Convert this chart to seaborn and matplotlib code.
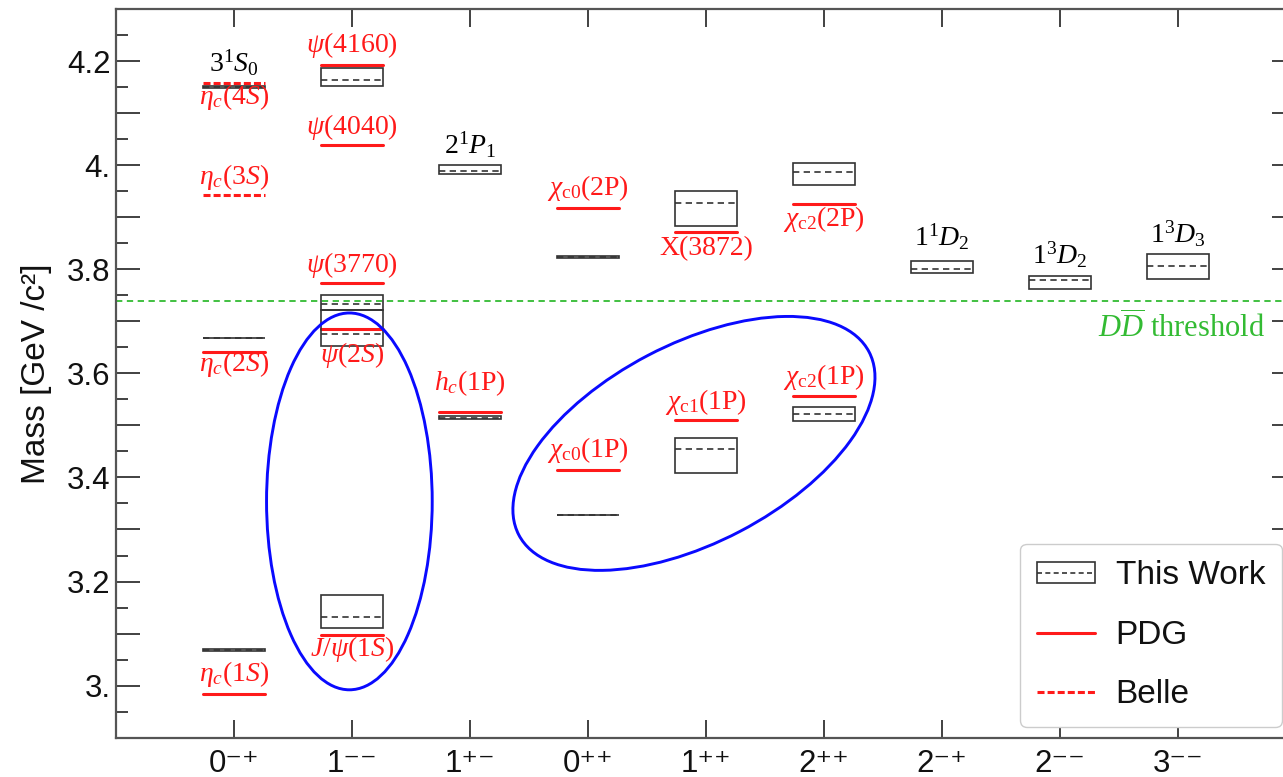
import numpy as np
import pandas as pd
import matplotlib
matplotlib.use("Agg")
import matplotlib.pyplot as plt
import seaborn as sns
from matplotlib.patches import Rectangle, Ellipse
from matplotlib.lines import Line2D
from matplotlib.transforms import Affine2D
from matplotlib.ticker import FixedLocator, MultipleLocator, FixedFormatter

# ---------------------------------------------------------------- data
jpc_labels = ["0⁻⁺", "1⁻⁻", "1⁺⁻", "0⁺⁺", "1⁺⁺", "2⁺⁺", "2⁻⁺", "2⁻⁻", "3⁻⁻"]

# lattice results: column index, central mass, lower / upper edge (GeV/c^2)
tw_col = [1, 1, 1, 2, 2, 2, 2, 3, 3, 4, 4, 5, 5, 6, 6, 7, 8, 9]
tw_mass = [3.068, 3.667, 4.1505, 3.1327, 3.6763, 3.734, 4.1635, 3.5147, 3.989,
           3.328, 3.8237, 3.4545, 3.9282, 3.5224, 3.9872, 3.8013, 3.7788, 3.8058]
tw_low = [3.0665, 3.667, 4.149, 3.1115, 3.652, 3.7212, 4.1519, 3.512, 3.9827,
          3.328, 3.8222, 3.409, 3.8827, 3.5083, 3.9615, 3.7936, 3.7628, 3.7808]
tw_high = [3.0695, 3.667, 4.152, 3.1744, 3.7212, 3.7513, 4.1872, 3.5175, 4.000,
           3.328, 3.8252, 3.4763, 3.9506, 3.5353, 4.0051, 3.816, 3.7865, 3.8301]

# PDG masses
pdg_col = [1, 1, 2, 2, 2, 2, 2, 3, 4, 4, 5, 5, 6, 6]
pdg_mass = [2.984, 3.641, 3.0974, 3.686, 3.7737, 4.0385, 4.1923, 3.5256,
            3.4147, 3.9186, 3.5109, 3.8718, 3.5571, 3.9263]

# Belle masses
belle_col = [1, 1]
belle_mass = [3.9436, 4.157]

# experimental state names
exp_text = [r"$\eta_c(1S)$", r"$\eta_c(2S)$", r"$\eta_c(3S)$", r"$\eta_c(4S)$",
            r"$J/\psi(1S)$", r"$\psi(2S)$", r"$\psi(3770)$", r"$\psi(4040)$",
            r"$\psi(4160)$", r"$h_c(1\mathrm{P})$",
            r"$\chi_{\mathrm{c0}}(1\mathrm{P})$", r"$\chi_{\mathrm{c0}}(2\mathrm{P})$",
            r"$\chi_{\mathrm{c1}}(1\mathrm{P})$", "X(3872)",
            r"$\chi_{\mathrm{c2}}(1\mathrm{P})$", r"$\chi_{\mathrm{c2}}(2\mathrm{P})$"]
exp_text_col = [1, 1, 1, 1, 2, 2, 2, 2, 2, 3, 4, 4, 5, 5, 6, 6]
exp_text_mass = [3.0225, 3.6186, 3.9775, 4.1314, 3.0706, 3.6346, 3.8077, 4.0737,
                 4.2308, 3.5813, 3.4519, 3.9552, 3.5448, 3.8398, 3.5929, 3.8975]

# spectroscopic names of predicted states
model_text = [r"$3^1S_0$", r"$2^1P_1$", r"$1^1D_2$", r"$1^3D_2$", r"$1^3D_3$"]
model_text_col = [1, 3, 7, 8, 9]
model_text_mass = [4.196, 4.0385, 3.8621, 3.8269, 3.8687]

threshold_mass = 3.739

y_tick_values = [2.9, 3.0, 3.1, 3.2, 3.3, 3.4, 3.5, 3.6, 3.7, 3.8, 3.9, 4.0, 4.1, 4.2, 4.3]
y_tick_labels = ["", "3.", "", "3.2", "", "3.4", "", "3.6", "", "3.8", "", "4.", "", "4.2", ""]

# ---------------------------------------------------------------- style
sns.set_theme(style="ticks")
plt.rcParams.update({
    "font.family": ["Liberation Sans", "DejaVu Sans"],
    "mathtext.fontset": "custom",
    "mathtext.rm": "Liberation Serif",
    "mathtext.it": "Liberation Serif:italic",
    "mathtext.bf": "Liberation Serif:bold",
    "mathtext.sf": "Liberation Sans",
    "text.color": "#111111",
    "axes.labelcolor": "#111111",
    "xtick.labelcolor": "#111111",
    "ytick.labelcolor": "#111111",
})

FRAME = "#555555"
BOX = "#333333"
RED = "#ff1a1a"
GREEN = "#33bb33"
BLUE = "#0a0aff"
HW = 0.26  # half width of a level marker in column units
XLIM = (0, 10)
YLIM = (2.9, 4.3)
LABEL_SIZE = 20

fig = plt.figure(figsize=(12.83, 7.77), dpi=100)
ax_rect = [0.0904, 0.0506, 0.9197, 0.9378]
ax = fig.add_axes(ax_rect)

# ---------------------------------------------------------------- experiment
def segments(cols, masses):
    rows = []
    for i, (c, m) in enumerate(zip(cols, masses)):
        rows.append({"state": i, "x": c - HW, "mass": m})
        rows.append({"state": i, "x": c + HW, "mass": m})
    return pd.DataFrame(rows)

sns.lineplot(data=segments(pdg_col, pdg_mass), x="x", y="mass", units="state",
             estimator=None, sort=False, color=RED, lw=2.2, ax=ax, zorder=3)
sns.lineplot(data=segments(belle_col, belle_mass), x="x", y="mass", units="state",
             estimator=None, sort=False, color=RED, lw=2.2, ax=ax, zorder=3,
             linestyle=(0, (2.3, 1.0)))

# ---------------------------------------------------------------- this work
for c, m, lo, hi in zip(tw_col, tw_mass, tw_low, tw_high):
    ax.add_patch(Rectangle((c - HW, lo), 2 * HW, hi - lo, facecolor="none",
                           edgecolor=BOX, lw=1.2, zorder=4))
ax.hlines(tw_mass, np.array(tw_col) - HW, np.array(tw_col) + HW, colors=BOX,
          lw=1.2, linestyles=[(0, (3.8, 2.6))], zorder=4)

# ---------------------------------------------------------------- threshold
ax.axhline(threshold_mass, color=GREEN, lw=1.3, ls=(0, (3.5, 2.5)), zorder=2)
ax.text(9.737, 3.6865, r"$D\overline{D}$ threshold", color=GREEN,
        fontsize=22, family="Liberation Serif", ha="right", va="center")

# ---------------------------------------------------------------- labels
for t, c, m in zip(exp_text, exp_text_col, exp_text_mass):
    ax.text(c, m, t, color=RED, fontsize=LABEL_SIZE, family="Liberation Serif",
            ha="center", va="center", zorder=5)
for t, c, m in zip(model_text, model_text_col, model_text_mass):
    ax.text(c, m, t, color="black", fontsize=LABEL_SIZE, family="Liberation Serif",
            ha="center", va="center", zorder=5)

# ---------------------------------------------------------------- groupings
ax.add_patch(Ellipse((1.978, 3.354), 1.404, 0.724, facecolor="none",
                     edgecolor=BLUE, lw=2.1, zorder=6))

fig_w, fig_h = fig.get_size_inches() * fig.dpi
k = (fig_h * ax_rect[3] / (YLIM[1] - YLIM[0])) / (fig_w * ax_rect[2] / (XLIM[1] - XLIM[0]))
iso = Affine2D().scale(1, 1 / k) + ax.transData
ax.add_patch(Ellipse((4.898, 3.4654 * k), 3.349, 1.683, angle=27.6,
                     facecolor="none", edgecolor=BLUE, lw=2.1, zorder=6,
                     transform=iso))

# ---------------------------------------------------------------- axes
ax.set_xlim(*XLIM)
ax.set_ylim(*YLIM)
ax.set_xticks(range(1, len(jpc_labels) + 1))
ax.set_xticklabels(jpc_labels, fontsize=22.5)
ax.yaxis.set_major_locator(FixedLocator(y_tick_values))
ax.yaxis.set_major_formatter(FixedFormatter(y_tick_labels))
ax.yaxis.set_minor_locator(MultipleLocator(0.05))
ax.tick_params(axis="y", which="major", direction="in", length=17, width=1.3,
               color="#333333", labelsize=22.5, pad=4, left=True, right=True)
ax.tick_params(axis="y", which="minor", direction="in", length=8.5, width=1.3,
               color="#333333", left=True, right=True)
ax.tick_params(axis="x", which="major", direction="in", length=13, width=1.3,
               color="#333333", labelsize=22.5, pad=8, top=True, bottom=True)
ax.tick_params(axis="x", which="minor", bottom=False, top=False)
for s in ax.spines.values():
    s.set_color(FRAME)
    s.set_linewidth(1.6)
ax.set_xlabel("")
ax.set_ylabel("Mass [GeV /c²]", fontsize=24, labelpad=11)

# ---------------------------------------------------------------- legend
handles = [
    (Rectangle((0, 0), 1, 1, facecolor="white", edgecolor=BOX, lw=1.2),
     Line2D([], [], color=BOX, lw=1.2, ls=(0, (3.0, 2.0)))),
    Line2D([], [], color=RED, lw=2.2),
    Line2D([], [], color=RED, lw=2.2, ls=(0, (2.3, 1.0))),
]
leg = ax.legend(handles, ["This Work", "PDG", "Belle"], loc="lower right",
                bbox_to_anchor=(0.988, 0.015), borderaxespad=0, fontsize=24,
                frameon=True, fancybox=True, edgecolor="#cccccc", framealpha=1,
                handlelength=1.75, handleheight=0.6, handletextpad=0.62,
                labelspacing=0.85, borderpad=0.5)
leg.get_frame().set_linewidth(1.0)
leg.set_zorder(10)

fig.savefig("out.png", dpi=100)
